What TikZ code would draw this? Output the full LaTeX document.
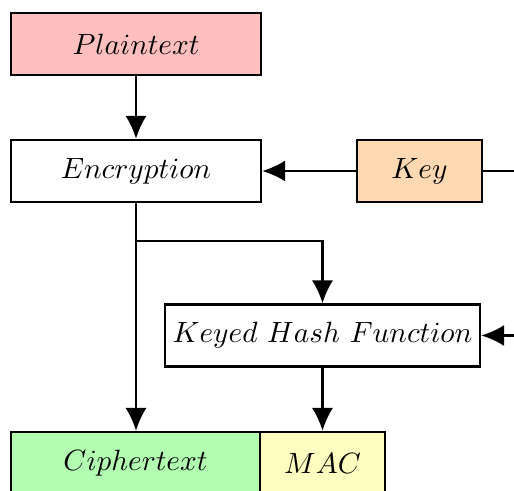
\documentclass[tikz,border=0pt]{standalone}
\usetikzlibrary{arrows.meta}
\begin{document}
\begin{tikzpicture}[x=0.012cm,y=-0.012cm,
  box/.style={draw,thick,inner sep=0pt,anchor=center,minimum height=0.744cm},
  wide/.style={box,minimum width=3cm},
  narrow/.style={box,minimum width=1.5cm},
  flow/.style={thick,-{Latex[length=7.8pt,width=7.2pt]}}]
\useasboundingbox (0,0) rectangle (514,491);
% boxes
\node[wide,fill=red!25] (plain) at (136,44) {$Plaintext$};
\node[wide] (enc) at (136,171) {$Encryption$};
\node[narrow,fill=orange!30] (key) at (419.5,171) {$Key$};
\node[box,minimum width=3.78cm] (hash) at (322.5,335.5) {$Keyed\ Hash\ Function$};
\node[box,minimum width=2.988cm,fill=green!30] (cipher) at (135.5,463) {$Ciphertext$};
\node[narrow,fill=yellow!25] (mac) at (322.5,463) {$MAC$};
% helper points for the bends
\coordinate (split) at (136,241);
\coordinate (keyout) at (540,171);
\coordinate (keyin) at (540,335.5);
% connectors
\draw[flow] (plain) -- (enc);
\draw[flow] (key) -- (enc);
\draw[flow] (enc) -- (cipher.north -| enc);
\draw[flow] (split) -| (hash);
\draw[flow] (hash) -- (mac);
\draw[flow] (key) -- (keyout) -- (keyin) -- (hash);
\end{tikzpicture}
\end{document}
